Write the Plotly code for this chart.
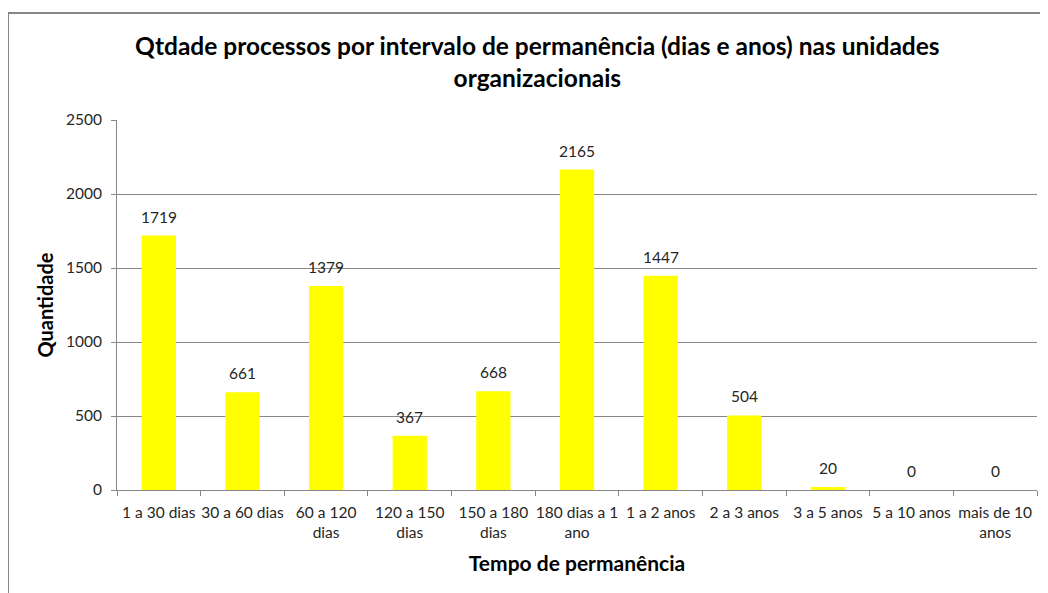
import plotly.graph_objects as go

categorias = ["1 a 30 dias", "30 a 60 dias", "60 a 120<br>dias", "120 a 150<br>dias",
              "150 a 180<br>dias", "180 dias a 1<br>ano", "1 a 2 anos", "2 a 3 anos",
              "3 a 5 anos", "5 a 10 anos", "mais de 10<br>anos"]
quantidades = [1719, 661, 1379, 367, 668, 2165, 1447, 504, 20, 0, 0]
y_ticks = [0, 500, 1000, 1500, 2000, 2500]

FONT = "Lato, Open Sans, sans-serif"
TXT = "#262626"

fig = go.Figure()
fig.add_trace(go.Bar(
    x=categorias, y=quantidades,
    marker=dict(color="#FFFF00", line=dict(width=0)),
    width=0.41,
    hoverinfo="x+y",
))

for c, v in zip(categorias, quantidades):
    fig.add_annotation(x=c, y=v, text=str(v), showarrow=False, yshift=19,
                       font=dict(family=FONT, size=15.5, color=TXT))

# outer chart frame
fig.add_shape(type="rect", xref="paper", yref="paper",
              x0=-0.1185, x1=1.02, y0=-0.35, y1=1.289,
              line=dict(color="#868686", width=2), fillcolor="rgba(0,0,0,0)", layer="below")

fig.update_layout(
    width=1040, height=585,
    margin=dict(l=109, r=11, t=112, b=103),
    paper_bgcolor="white", plot_bgcolor="white",
    showlegend=False,
    bargap=0.59,
    title=dict(
        text="<b>Qtdade processos por intervalo de permanência (dias e anos) nas unidades<br>organizacionais</b>",
        x=0.509, xanchor="center", y=0.919, yanchor="middle",
        font=dict(family=FONT, size=24.5, color="black"),
    ),
    font=dict(family=FONT, size=15, color=TXT),
    xaxis=dict(
        title=dict(text="<b>Tempo de permanência</b>", font=dict(family=FONT, size=21, color="black"), standoff=16),
        showline=True, linecolor="#868686", linewidth=1,
        ticks="outside", tickson="boundaries", ticklen=5, tickcolor="#868686",
        tickfont=dict(family=FONT, size=15.5, color=TXT),
        ticklabelstandoff=8,
        showgrid=False, tickangle=0,
    ),
    yaxis=dict(
        title=dict(text="<b>Quantidade</b>", font=dict(family=FONT, size=20, color="black"), standoff=6),
        range=[0, 2500], tickvals=y_ticks,
        showline=True, linecolor="#868686", linewidth=1,
        ticks="outside", ticklen=5, tickcolor="#868686",
        showgrid=True, gridcolor="#868686", gridwidth=1,
        zeroline=False,
        ticklabelstandoff=6,
        tickfont=dict(family=FONT, size=15.5, color=TXT),
    ),
)

fig.write_html("out.html")
